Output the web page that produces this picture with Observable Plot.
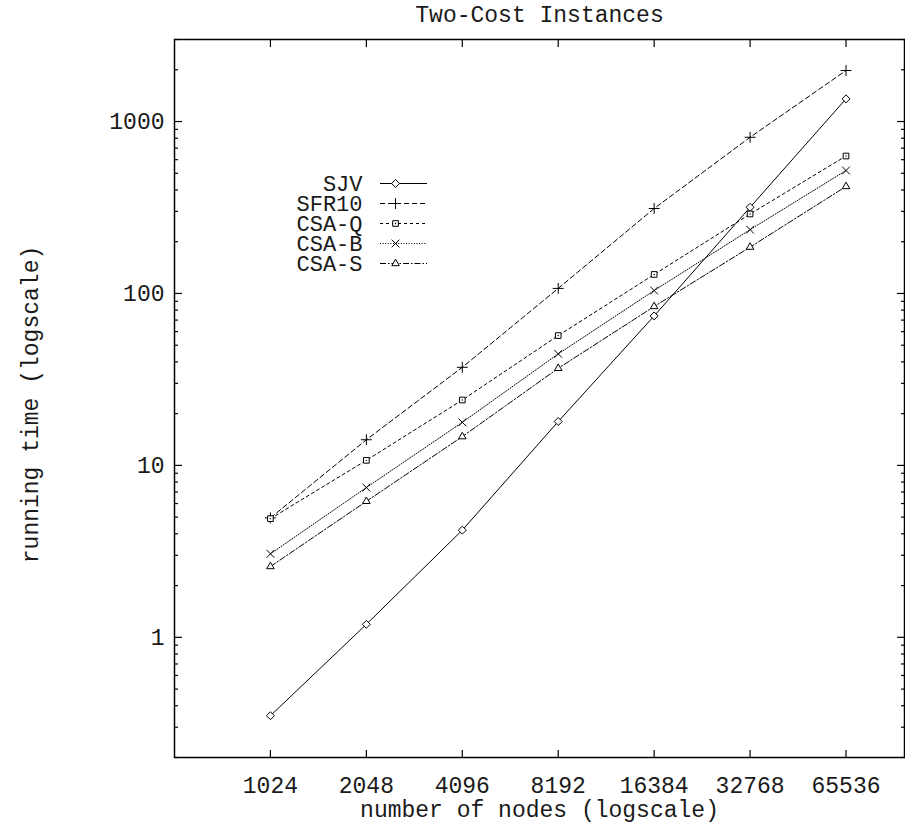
<!DOCTYPE html>
<html>
<head>
<meta charset="utf-8">
<script src="https://cdn.jsdelivr.net/npm/d3@7"></script>
<script src="https://cdn.jsdelivr.net/npm/@observablehq/plot@0.6"></script>
<style>
  html, body { margin: 0; padding: 0; background: #fff; }
  #wrap { position: relative; width: 905px; height: 825px; }
  #legend { position: absolute; left: 270px; top: 160px; }
</style>
</head>
<body>
<div id="wrap"><div id="chart"></div><div id="legend"></div></div>
<script>
const nodes = [1024, 2048, 4096, 8192, 16384, 32768, 65536];
const seriesNames = ["SJV", "SFR10", "CSA-Q", "CSA-B", "CSA-S"];
const sjv   = [0.35, 1.19, 4.2, 18.0, 74, 317, 1355];
const sfr10 = [4.95, 14.1, 37.2, 107, 312, 810, 1980];
const csaQ  = [4.9, 10.7, 24.0, 56.9, 129, 290, 630];
const csaB  = [3.06, 7.43, 17.8, 44.5, 104, 235, 519];
const csaS  = [2.58, 6.18, 14.7, 36.7, 84, 186, 419];
const yMajorTicks = [1, 10, 100, 1000];
const yMinorTicks = [0.2,0.3,0.4,0.5,0.6,0.7,0.8,0.9, 2,3,4,5,6,7,8,9, 20,30,40,50,60,70,80,90, 200,300,400,500,600,700,800,900, 2000,3000];
const titleText = "Two-Cost Instances";
const xLabel = "number of nodes (logscale)";
const yLabel = "running time (logscale)";

const seriesValues = [sjv, sfr10, csaQ, csaB, csaS];
const dash = [null, "5,3", "3,3", "1,1.6", "6,2,1.5,2"];
const symbols = ["diamond2", "plus", "square2", "times", "triangle2"];

const FONT = "'Liberation Mono', 'DejaVu Sans Mono', monospace";
const FS = 23;
const INK = "#1a1a1a";

const marks = [];
seriesNames.forEach((name, i) => {
  const data = nodes.map((n, j) => ({n, v: seriesValues[i][j]}));
  marks.push(Plot.line(data, {x: "n", y: "v", stroke: "black", strokeWidth: 1, strokeDasharray: dash[i] || undefined}));
  marks.push(Plot.dot(data, {x: "n", y: "v", symbol: () => symbols[i], stroke: "black", fill: "white", strokeWidth: 1, r: 3.6}));
  if (name === "CSA-Q") marks.push(Plot.dot(data, {x: "n", y: "v", r: 0.7, fill: "black"}));
});

const chart = Plot.plot({
  width: 905,
  height: 825,
  marginLeft: 174,
  marginRight: 1,
  marginTop: 39,
  marginBottom: 68,
  style: {fontFamily: FONT, fontSize: FS + "px", color: INK, background: "white"},
  x: {type: "log", base: 2, domain: [512, 100000]},
  y: {type: "log", domain: [0.2, 3000]},
  marks: [
    // inward ticks
    Plot.axisX({anchor: "bottom", ticks: nodes, tickSize: -7, fill: "none", label: null, stroke: "black", strokeWidth: 1.2}),
    Plot.axisX({anchor: "top", ticks: nodes, tickSize: -7, fill: "none", label: null, stroke: "black", strokeWidth: 1.2}),
    Plot.axisY({anchor: "left", ticks: yMajorTicks, tickSize: -8, fill: "none", label: null, stroke: "black", strokeWidth: 1.2}),
    Plot.axisY({anchor: "right", ticks: yMajorTicks, tickSize: -8, fill: "none", label: null, stroke: "black", strokeWidth: 1.2}),
    Plot.axisY({anchor: "left", ticks: yMinorTicks, tickSize: -4, fill: "none", label: null, stroke: "black", strokeWidth: 1.2}),
    Plot.axisY({anchor: "right", ticks: yMinorTicks, tickSize: -4, fill: "none", label: null, stroke: "black", strokeWidth: 1.2}),
    // labels
    Plot.axisX({anchor: "bottom", ticks: nodes, tickSize: 0, tickPadding: 19, tickFormat: d => String(d), label: null, fill: INK}),
    Plot.axisY({anchor: "left", ticks: yMajorTicks, tickSize: 0, tickPadding: 10, tickFormat: d => String(d), label: null, fill: INK}),
    Plot.frame({stroke: "black", strokeWidth: 1.5}),
    ...marks,
    Plot.text([titleText], {frameAnchor: "top", dy: -25, lineAnchor: "middle", textAnchor: "middle", fill: INK}),
    Plot.text([xLabel], {frameAnchor: "bottom", dy: 52, lineAnchor: "middle", textAnchor: "middle", fill: INK}),
    Plot.text([yLabel], {frameAnchor: "left", dx: -144, dy: 6, rotate: -90, lineAnchor: "middle", textAnchor: "middle", fill: INK})
  ]
});
document.getElementById("chart").appendChild(chart);

// legend
const legendMarks = [];
seriesNames.forEach((name, i) => {
  legendMarks.push(Plot.ruleY([name], {y: d => d, x1: 0, x2: 1, stroke: "black", strokeWidth: 1, strokeDasharray: dash[i] || undefined}));
  legendMarks.push(Plot.dot([name], {y: d => d, x: 0.32, symbol: () => symbols[i], stroke: "black", fill: "white", strokeWidth: 1, r: 3.6}));
  if (name === "CSA-Q") legendMarks.push(Plot.dot([name], {y: d => d, x: 0.32, r: 0.7, fill: "black"}));
});
legendMarks.push(Plot.text(seriesNames, {y: d => d, x: 0, dx: -18, text: d => d, textAnchor: "end", fill: INK, fontSize: 22}));
const legend = Plot.plot({
  width: 170, height: 130,
  margin: 0,
  style: {fontFamily: FONT, fontSize: "22px", color: INK, background: "transparent", overflow: "visible"},
  x: {domain: [0, 1], range: [110, 157], axis: null},
  y: {type: "point", domain: seriesNames, range: [13, 113], axis: null},
  marks: legendMarks
});
document.getElementById("legend").appendChild(legend);
</script>
</body>
</html>
